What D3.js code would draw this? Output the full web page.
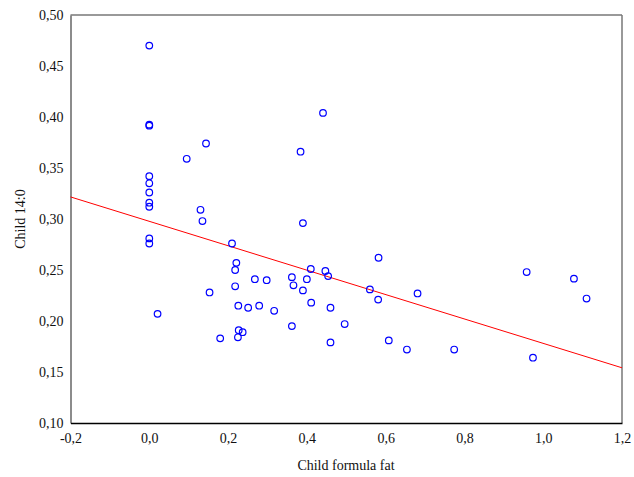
<!DOCTYPE html>
<html>
<head>
<meta charset="utf-8">
<script src="https://cdn.jsdelivr.net/npm/d3@7"></script>
<style>
  html, body { margin: 0; padding: 0; background: #fff; }
  svg { display: block; }
  text { font-family: "Liberation Serif", "Times New Roman", serif; fill: #111; }
</style>
</head>
<body>
<svg id="chart" width="634" height="477"></svg>
<script>
// Child formula fat (x) vs. Child 14:0 (y)
const formulaFat = [
  0, 0, 0, 0, 0, 0, 0, 0, 0, 0,
  0.021, 0.095, 0.144, 0.130, 0.135, 0.210, 0.221, 0.218, 0.218, 0.153,
  0.226, 0.251, 0.279, 0.317, 0.268, 0.298, 0.362, 0.366, 0.400, 0.390,
  0.410, 0.447, 0.454, 0.411, 0.460, 0.384, 0.441, 0.390, 0.180, 0.227,
  0.237, 0.225, 0.362, 0.460, 0.496, 0.608, 0.654, 0.582, 0.560, 0.581,
  0.681, 0.958, 1.078, 1.110, 0.774, 0.974
];
const child140 = [
  0.470, 0.3925, 0.3915, 0.342, 0.335, 0.326, 0.316, 0.312, 0.281, 0.276,
  0.207, 0.359, 0.374, 0.309, 0.298, 0.276, 0.257, 0.250, 0.234, 0.228,
  0.215, 0.213, 0.215, 0.210, 0.241, 0.240, 0.243, 0.235, 0.241, 0.230,
  0.251, 0.249, 0.244, 0.218, 0.213, 0.366, 0.404, 0.296, 0.183, 0.191,
  0.189, 0.184, 0.195, 0.179, 0.197, 0.181, 0.172, 0.262, 0.231, 0.221,
  0.227, 0.248, 0.2415, 0.222, 0.172, 0.164
];
const xTicks = [-0.2, 0, 0.2, 0.4, 0.6, 0.8, 1.0, 1.2];
const yTicks = [0.10, 0.15, 0.20, 0.25, 0.30, 0.35, 0.40, 0.45, 0.50];

const svg = d3.select("#chart");
const plotL = 70.5, plotR = 622, plotT = 15, plotB = 423;

const x = d3.scaleLinear().domain([-0.2, 1.2]).range([plotL, plotR]);
const y = d3.scaleLinear().domain([0.10, 0.50]).range([plotB, plotT]);

// Decimal comma, plain hyphen for negatives
const fmt = (d, n) => d3.format("." + n + "f")(d).replace(".", ",").replace("\u2212", "-");

// Least-squares fit line across the full x range
const mx = d3.mean(formulaFat), my = d3.mean(child140);
let sxy = 0, sxx = 0;
formulaFat.forEach((v, i) => { sxy += (v - mx) * (child140[i] - my); sxx += (v - mx) ** 2; });
const slope = sxy / sxx, intercept = my - slope * mx;

// Frame
svg.append("line").attr("x1", plotL).attr("x2", plotR).attr("y1", plotT).attr("y2", plotT)
  .attr("stroke", "#777").attr("stroke-width", 1.5);
svg.append("line").attr("x1", plotR).attr("x2", plotR).attr("y1", plotT).attr("y2", plotB)
  .attr("stroke", "#777").attr("stroke-width", 1.5);

// Axes (labels only, no tick marks)
const yAxis = d3.axisLeft(y).tickValues(yTicks).tickSize(0).tickPadding(7)
  .tickFormat(d => fmt(d, 2));
const gy = svg.append("g").attr("transform", `translate(${plotL},0)`).call(yAxis);
gy.select(".domain").attr("stroke", "#666").attr("stroke-width", 1.5);
gy.selectAll("text").style("font-family", "Liberation Serif").style("font-size", "14px").attr("fill", "#111");

const xAxis = d3.axisBottom(x).tickValues(xTicks).tickSize(0).tickPadding(10)
  .tickFormat(d => fmt(d, 1));
const gx = svg.append("g").attr("transform", `translate(0,${plotB})`).call(xAxis);
gx.select(".domain").attr("stroke", "#000").attr("stroke-width", 1.5);
gx.selectAll("text").style("font-family", "Liberation Serif").style("font-size", "14px").attr("fill", "#111");

// Regression line
svg.append("line")
  .attr("x1", x(-0.2)).attr("y1", y(intercept + slope * -0.2))
  .attr("x2", x(1.2)).attr("y2", y(intercept + slope * 1.2))
  .attr("stroke", "#ff0000").attr("stroke-width", 1);

// Points
svg.append("g").selectAll("circle")
  .data(formulaFat.map((v, i) => [v, child140[i]]))
  .join("circle")
  .attr("cx", d => x(d[0])).attr("cy", d => y(d[1])).attr("r", 3.3)
  .attr("fill", "none").attr("stroke", "#0000ff").attr("stroke-width", 1.2);

// Axis titles
svg.append("text").attr("x", 346).attr("y", 470).attr("text-anchor", "middle")
  .style("font-size", "14px").text("Child formula fat");
svg.append("text").attr("transform", "translate(25,219) rotate(-90)").attr("text-anchor", "middle")
  .style("font-size", "14px").text("Child 14:0");
</script>
</body>
</html>
